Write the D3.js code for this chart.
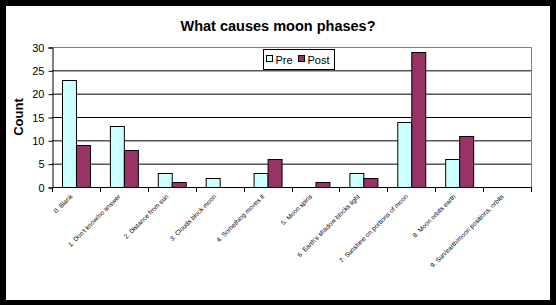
<!DOCTYPE html>
<html>
<head>
<meta charset="utf-8">
<script src="https://cdn.jsdelivr.net/npm/d3@7"></script>
<style>
  html, body { margin: 0; padding: 0; background: #000; }
  svg { display: block; font-family: "Liberation Sans", Arial, sans-serif; }
</style>
</head>
<body>
<div id="chart"></div>
<script>
const categories = [
  "0. Blank",
  "1. Don't know/no answer",
  "2. Distance from sun",
  "3. Clouds block moon",
  "4. Something moves it",
  "5. Moon spins",
  "6. Earth's shadow blocks light",
  "7. Sunshine on portions of moon",
  "8. Moon orbits earth",
  "9. Sun/earth/moon positions, orbits"
];
const series = ["Pre", "Post"];
const preValues = [23, 13, 3, 2, 3, 0, 3, 14, 6, 0];
const postValues = [9, 8, 1, 0, 6, 1, 2, 29, 11, 0];
const yTicks = [0, 5, 10, 15, 20, 25, 30];
const colors = { Pre: "#ccffff", Post: "#993366" };

const width = 556, height = 305;
const plot = { left: 52, right: 531, top: 47, bottom: 187 };

const svg = d3.select("#chart").append("svg")
    .attr("width", width)
    .attr("height", height);

// white card on black frame
svg.append("rect")
    .attr("x", 6).attr("y", 6)
    .attr("width", 544).attr("height", 294)
    .attr("fill", "#fff");

const x0 = d3.scaleBand()
    .domain(categories)
    .range([plot.left, plot.right])
    .paddingInner(0.417)
    .paddingOuter(0.2085);

const x1 = d3.scaleBand()
    .domain(series)
    .range([0, x0.bandwidth()]);

const y = d3.scaleLinear()
    .domain([0, 30])
    .range([plot.bottom, plot.top]);

// gridlines
svg.append("g")
    .selectAll("line")
    .data(yTicks.filter(t => t > 0 && t < 30))
    .join("line")
    .attr("x1", plot.left).attr("x2", plot.right)
    .attr("y1", d => y(d) + 0.5).attr("y2", d => y(d) + 0.5)
    .attr("stroke", "#000");

// plot border (top + right in gray)
svg.append("path")
    .attr("d", `M${plot.left},${y(30) + 0.5}H${plot.right + 0.5}V${plot.bottom}`)
    .attr("fill", "none")
    .attr("stroke", "#808080");

// bars
const data = categories.map((c, i) => ({ cat: c, Pre: preValues[i], Post: postValues[i] }));
const groups = svg.append("g")
    .selectAll("g")
    .data(data)
    .join("g")
    .attr("transform", d => `translate(${x0(d.cat)},0)`);

groups.selectAll("rect")
    .data(d => series.map(s => ({ key: s, value: d[s] })).filter(d => d.value > 0))
    .join("rect")
    .attr("x", d => Math.round(x1(d.key)) + 0.5)
    .attr("y", d => Math.round(y(d.value)) + 0.5)
    .attr("width", x1.bandwidth())
    .attr("height", d => Math.round(y(0)) - Math.round(y(d.value)))
    .attr("fill", d => colors[d.key])
    .attr("stroke", "#000");

// y axis
const yAxis = d3.axisLeft(y).tickValues(yTicks).tickSize(4).tickPadding(4);
svg.append("g")
    .attr("transform", `translate(${plot.left + 0.5},0.5)`)
    .call(yAxis)
    .call(g => g.select(".domain").attr("stroke", "#000"))
    .call(g => g.selectAll(".tick line").attr("stroke", "#000"))
    .call(g => g.selectAll("text")
        .attr("font-family", "Liberation Sans, Arial, sans-serif")
        .attr("font-size", 11)
        .attr("fill", "#000"));

// x axis: ticks at category boundaries
const step = x0.step();
const bounds = d3.range(categories.length + 1).map(i => plot.left + i * step);
svg.append("line")
    .attr("x1", plot.left).attr("x2", plot.right + 1)
    .attr("y1", plot.bottom + 0.5).attr("y2", plot.bottom + 0.5)
    .attr("stroke", "#000");
svg.append("g")
    .selectAll("line")
    .data(bounds)
    .join("line")
    .attr("x1", d => Math.round(d) + 0.5).attr("x2", d => Math.round(d) + 0.5)
    .attr("y1", plot.bottom).attr("y2", plot.bottom + 5)
    .attr("stroke", "#000");

// x labels rotated
svg.append("g")
    .selectAll("text")
    .data(categories)
    .join("text")
    .attr("transform", d => `translate(${x0(d) + x0.bandwidth() / 2 - 3},197) rotate(-45)`)
    .attr("text-anchor", "end")
    .attr("font-size", 6.5)
    .attr("fill", "#000")
    .text(d => d);

// title
svg.append("text")
    .attr("x", 278).attr("y", 31)
    .attr("text-anchor", "middle")
    .attr("font-size", 14.5)
    .attr("font-weight", "bold")
    .text("What causes moon phases?");

// y title
svg.append("text")
    .attr("transform", `translate(23,${(plot.top + plot.bottom) / 2}) rotate(-90)`)
    .attr("text-anchor", "middle")
    .attr("font-size", 13)
    .attr("font-weight", "bold")
    .text("Count");

// legend
const legend = svg.append("g").attr("transform", "translate(263.5,49.5)");
legend.append("rect")
    .attr("width", 71).attr("height", 20)
    .attr("fill", "#fff")
    .attr("stroke", "#000");
const items = legend.selectAll("g")
    .data(series)
    .join("g")
    .attr("transform", (d, i) => `translate(${i === 0 ? 3 : 35},0)`);
items.append("rect")
    .attr("x", 0).attr("y", 6)
    .attr("width", 6).attr("height", 6)
    .attr("fill", d => colors[d])
    .attr("stroke", "#000");
items.append("text")
    .attr("x", 9).attr("y", 14)
    .attr("font-size", 11)
    .text(d => d);
</script>
</body>
</html>
